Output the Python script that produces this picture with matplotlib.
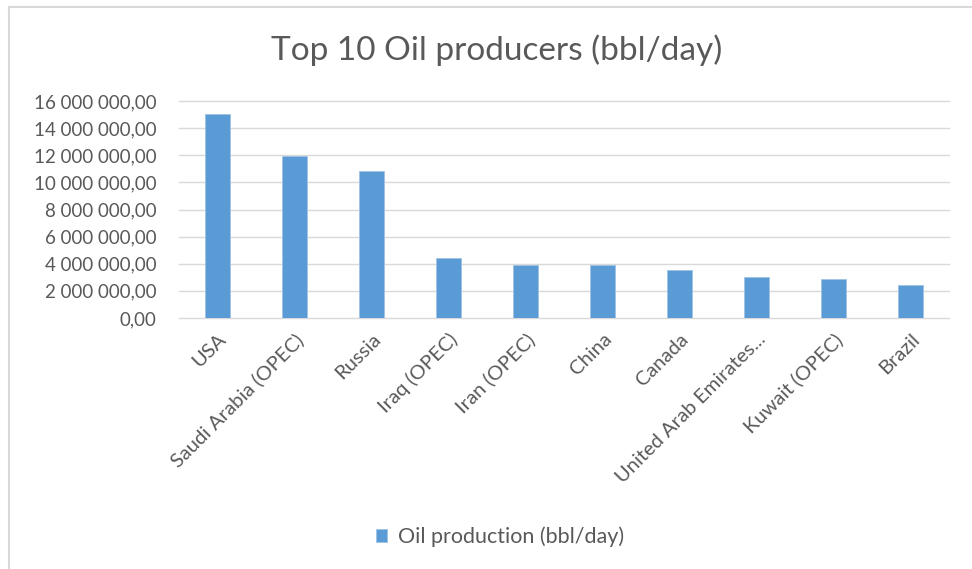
import matplotlib.pyplot as plt
from matplotlib.lines import Line2D
from matplotlib.ticker import FuncFormatter

countries = ["USA", "Saudi Arabia (OPEC)", "Russia", "Iraq (OPEC)", "Iran (OPEC)",
             "China", "Canada", "United Arab Emirates...", "Kuwait (OPEC)", "Brazil"]
production = [15040000, 11970000, 10840000, 4450000, 3930000,
              3930000, 3570000, 3020000, 2890000, 2450000]
yticks = list(range(0, 16000001, 2000000))

plt.rcParams['font.family'] = ['Lato', 'DejaVu Sans']
txt = '#595959'

fig = plt.figure(figsize=(9.72, 5.69), dpi=100)
ax = fig.add_axes([179/972, 1 - 318/569, 770/972, 217/569])

x = range(len(countries))
ax.bar(x, production, width=0.32, color='#5b9bd5', edgecolor='#9dc3e6', linewidth=0.6,
       label='Oil production (bbl/day)', zorder=3)

def fmt(v, pos):
    s = '{:,.2f}'.format(v)
    return s.replace(',', ' ').replace('.', ',')

ax.set_ylim(0, 16000000)
ax.set_yticks(yticks)
ax.yaxis.set_major_formatter(FuncFormatter(fmt))
ax.set_xlim(-0.5, len(countries) - 0.5)
ax.set_xticks(list(x))
ax.set_xticklabels(countries, rotation=45, ha='right', rotation_mode='anchor')
ax.tick_params(axis='both', length=0, colors=txt)
ax.tick_params(axis='x', pad=9, labelsize=14.5)
ax.tick_params(axis='y', pad=16, labelsize=13.5)
ax.grid(True, axis='y', color='#d9d9d9', linewidth=1, zorder=0)
for gl in ax.get_ygridlines():
    gl.set_clip_on(False)
for s in ax.spines.values():
    s.set_visible(False)

fig.text(497/972, 1 - 50/569, 'Top 10 Oil producers (bbl/day)', ha='center', va='center',
         fontsize=24, color=txt)

fig.legend(loc='center', bbox_to_anchor=(500/972, 1 - 537/569), frameon=False,
           fontsize=15.5, labelcolor=txt, handlelength=0.55, handleheight=0.55, handletextpad=0.5)

# chart border (top and left only visible)
fig.add_artist(Line2D([9/972, 1], [1 - 7/569, 1 - 7/569], color='#d9d9d9', linewidth=1.5,
                      transform=fig.transFigure))
fig.add_artist(Line2D([9/972, 9/972], [0, 1 - 7/569], color='#d9d9d9', linewidth=1.5,
                      transform=fig.transFigure))

fig.savefig('out.png', dpi=100)
